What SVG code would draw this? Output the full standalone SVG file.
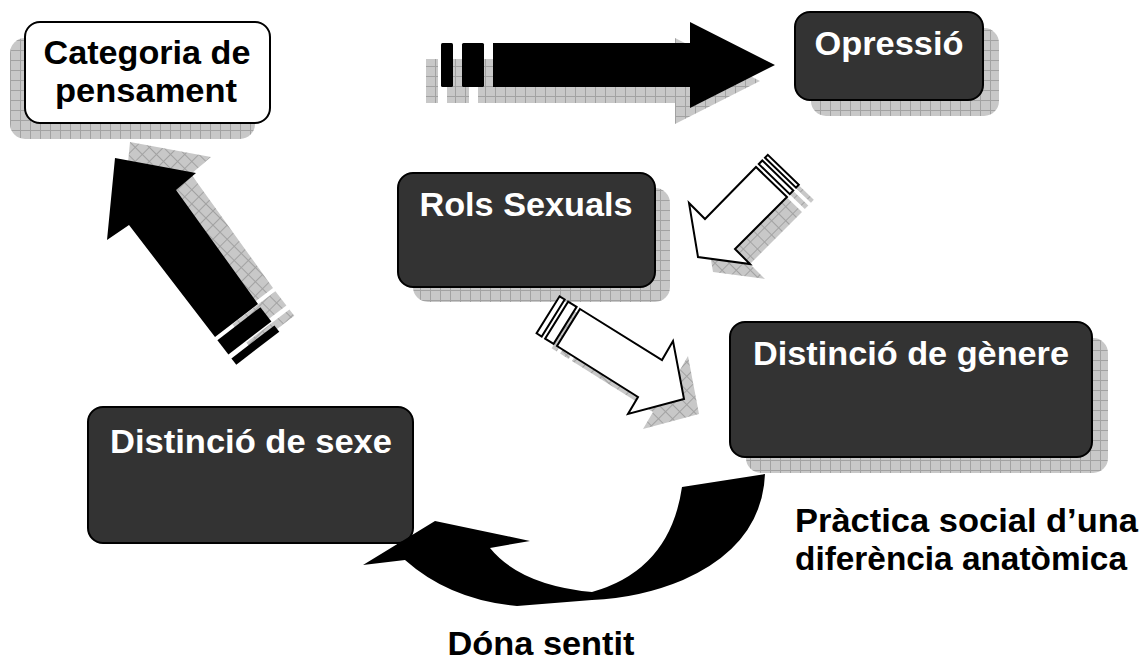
<svg xmlns="http://www.w3.org/2000/svg" width="1142" height="666" viewBox="0 0 1142 666">
<style>
.node{fill:#333333;stroke:#000;stroke-width:2}
.wnode{fill:#fff;stroke:#000;stroke-width:2}
.sh{fill:url(#grid)}
.shr{fill:url(#gridR)}
.lbl{font-family:"Liberation Sans",Arial,sans-serif;font-weight:bold;font-size:34px;fill:#fff;text-anchor:middle}
.blk{fill:#000}
.txt{font-family:"Liberation Sans",Arial,sans-serif;font-weight:bold;font-size:34px;fill:#000}
.warr{fill:#fff;stroke:#000;stroke-width:2;stroke-linejoin:miter}
</style>
<defs>
<pattern id="grid" width="10" height="10" patternUnits="userSpaceOnUse">
<rect width="10" height="10" fill="#c8c8c8"/>
<path d="M0 0.5H10M0.5 0V10" stroke="#a2a2a2" stroke-width="1"/>
</pattern>
<pattern id="gridR" width="10" height="10" patternUnits="userSpaceOnUse" patternTransform="rotate(45)">
<rect width="10" height="10" fill="#c8c8c8"/>
<path d="M0 0.5H10M0.5 0V10" stroke="#a2a2a2" stroke-width="1"/>
</pattern>
</defs>
<rect width="1142" height="666" fill="#fff"/>

<g id="node-categoria">
<rect class="sh" x="10" y="38" width="245" height="101" rx="15"/>
<rect class="wnode" x="25" y="22" width="245" height="101" rx="15"/>
<text class="txt" x="147" y="64" text-anchor="middle" textLength="207" lengthAdjust="spacingAndGlyphs">Categoria de</text>
<text class="txt" x="146" y="102" text-anchor="middle" textLength="182" lengthAdjust="spacingAndGlyphs">pensament</text>
</g>

<g id="node-opressio">
<rect class="sh" x="811" y="28" width="188" height="88" rx="15"/>
<rect class="node" x="795" y="12" width="188" height="88" rx="15"/>
<text class="lbl" x="889" y="55" textLength="149" lengthAdjust="spacingAndGlyphs">Opressió</text>
</g>

<g id="node-rols">
<rect class="sh" x="413" y="188" width="257" height="114" rx="15"/>
<rect class="node" x="398" y="173" width="257" height="114" rx="15"/>
<text class="lbl" x="526" y="216" textLength="213" lengthAdjust="spacingAndGlyphs">Rols Sexuals</text>
</g>

<g id="node-genere">
<rect class="sh" x="746" y="338" width="362" height="135" rx="15"/>
<rect class="node" x="730" y="322" width="362" height="135" rx="15"/>
<text class="lbl" x="911" y="365" textLength="316" lengthAdjust="spacingAndGlyphs">Distinció de gènere</text>
</g>

<g id="node-sexe">
<rect class="node" x="88" y="407" width="325" height="136" rx="15"/>
<text class="lbl" x="251" y="453" textLength="282" lengthAdjust="spacingAndGlyphs">Distinció de sexe</text>
</g>

<g id="connectors">
<g id="arrow-top">
<g transform="translate(-15,16)">
<rect class="sh" x="441" y="43" width="12" height="44"/>
<rect class="sh" x="462" y="43" width="22" height="44"/>
<polygon class="sh" points="493,43 690,43 690,22 775,65 690,108 690,87 493,87"/>
</g>
<rect class="blk" x="441" y="43" width="12" height="44" rx="1.5"/>
<rect class="blk" x="462" y="43" width="22" height="44" rx="1.5"/>
<polygon class="blk" points="493,43 690,43 690,22 775,65 690,108 690,87 493,87"/>
</g>

<g id="arrow-opressio-rols">
<g transform="translate(15,15)">
<polygon class="shr" points="758.8,164.1 789.8,194.1 793.3,190.5 762.3,160.5"/>
<polygon class="shr" points="765,157.7 796,187.7 798.8,184.8 767.8,154.8"/>
<polygon class="shr" points="698,257 689,203 705,219 756,167 787,197 735,249 750,264"/>
</g>
<polygon class="warr" points="758.8,164.1 789.8,194.1 793.3,190.5 762.3,160.5"/>
<polygon class="warr" points="765,157.7 796,187.7 798.8,184.8 767.8,154.8"/>
<polygon class="warr" points="698,257 689,203 705,219 756,167 787,197 735,249 750,264"/>
</g>

<g id="arrow-rols-genere">
<g transform="translate(15,15)">
<polygon class="shr" points="576.6,306.9 553.6,343.9 545.1,338.6 568.1,301.6"/>
<polygon class="shr" points="564.7,299.5 541.7,336.5 536.6,333.3 559.6,296.3"/>
<polygon class="shr" points="580,309 662,360 673,341 684,399 628,414 638,397 557,346"/>
</g>
<polygon class="warr" points="576.6,306.9 553.6,343.9 545.1,338.6 568.1,301.6"/>
<polygon class="warr" points="564.7,299.5 541.7,336.5 536.6,333.3 559.6,296.3"/>
<polygon class="warr" points="580,309 662,360 673,341 684,399 628,414 638,397 557,346"/>
</g>

<g id="arrow-sexe-categoria">
<g transform="translate(15,-16)">
<polygon class="shr" points="217.4,340.2 260.4,307.2 271.4,321.5 228.4,354.5"/>
<polygon class="shr" points="231.4,358.4 274.4,325.4 279.3,331.7 236.3,364.7"/>
<polygon class="shr" points="115,158 196,173 176,190 258,304 215,337 129,225 107,240"/>
</g>
<polygon class="blk" points="217.4,340.2 260.4,307.2 271.4,321.5 228.4,354.5"/>
<polygon class="blk" points="231.4,358.4 274.4,325.4 279.3,331.7 236.3,364.7"/>
<polygon class="blk" points="115,158 196,173 176,190 258,304 215,337 129,225 107,240"/>
</g>

<g id="arrow-curve">
<path class="blk" d="M363,565 L435,521 L530,541 L490,548 Q520,585 592,592 Q670,570 682,487 L765,474 Q762,545 683,580 Q640,598 592,600 L517,606 Q450,600 405,560 Z"/>
</g>
</g>

<text class="txt" x="795" y="532" textLength="343" lengthAdjust="spacingAndGlyphs">Pràctica social d’una</text>
<text class="txt" x="795" y="570" textLength="332" lengthAdjust="spacingAndGlyphs">diferència anatòmica</text>
<text class="txt" x="541" y="655" text-anchor="middle" textLength="187" lengthAdjust="spacingAndGlyphs">Dóna sentit</text>
</svg>
